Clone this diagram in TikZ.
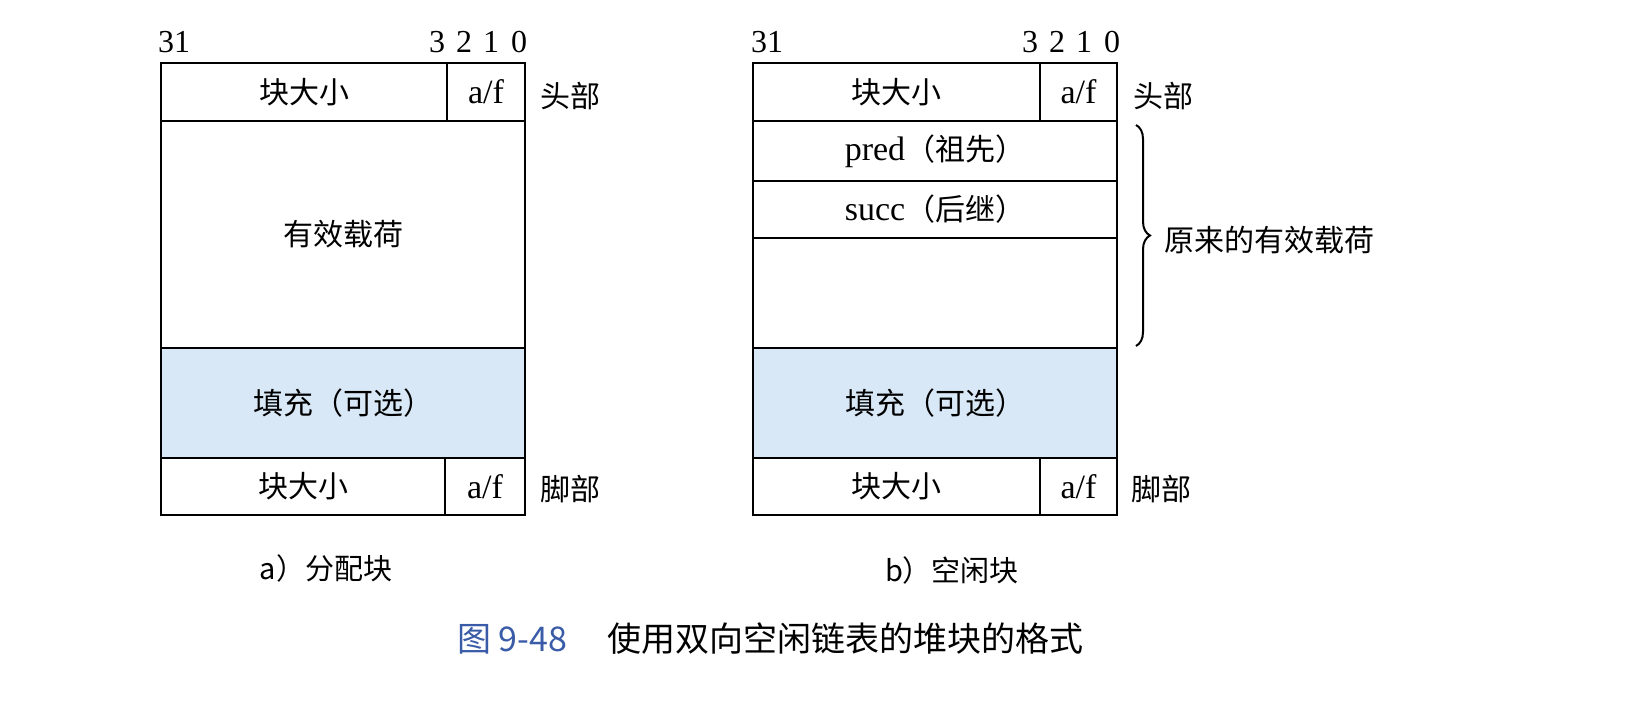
\documentclass[tikz,border=0pt]{standalone}
\usepackage{fontspec}
\setmainfont{Liberation Serif}
\newfontfamily\cjk{Noto Sans CJK SC}
\usetikzlibrary{decorations.pathreplacing}
\definecolor{padblue}{HTML}{D8E8F6}
\definecolor{capblue}{HTML}{3A5CA8}
\newcommand{\lat}[1]{{\fontsize{17pt}{20pt}\selectfont #1}}
\tikzset{
  cell/.style={draw=black, line width=1pt, inner sep=0pt, minimum height=#1, font=\fontsize{15pt}{18pt}\selectfont},
  lbl/.style={inner sep=0pt, font=\fontsize{15pt}{18pt}\selectfont},
  bits/.style={inner sep=0pt, font=\fontsize{16pt}{19pt}\selectfont},
  sub/.style={inner sep=0pt, font=\fontsize{14.5pt}{17pt}\selectfont\cjk},
}
\begin{document}
\begin{tikzpicture}[x=0.5pt,y=-0.5pt]
\useasboundingbox[fill=white] (0,0) rectangle (1625,704);
% ---------- left block ----------
\node[cell=29pt, minimum width=143pt] (aHs) at (304,92) {\cjk 块大小};
\node[cell=29pt, minimum width=39pt] (aHf) at (486,92) {\lat{a/f}};
\node[cell=113.5pt, minimum width=182pt] (aPay) at (343,234.5) {\cjk 有效载荷};
\node[cell=55pt, minimum width=182pt, fill=padblue] (aPad) at (343,403) {\cjk 填充（可选）};
\node[cell=28.5pt, minimum width=142pt] (aFs) at (303,486.5) {\cjk 块大小};
\node[cell=28.5pt, minimum width=40pt] (aFf) at (485,486.5) {\lat{a/f}};
\node[bits] (a31) at (174,42) {31};
\node[bits] (a3) at (437,42) {3};
\node[bits] (a2) at (464,42) {2};
\node[bits] (a1) at (491,42) {1};
\node[bits] (a0) at (519,42) {0};
\node[lbl, anchor=west] (aHead) at (540,96) {\cjk 头部};
\node[lbl, anchor=west] (aFoot) at (540,489) {\cjk 脚部};
\node[sub] (aCap) at (326,568) {a）分配块};
% ---------- right block ----------
\node[cell=29pt, minimum width=143.5pt] (bHs) at (896.5,92) {\cjk 块大小};
\node[cell=29pt, minimum width=38.5pt] (bHf) at (1078.5,92) {\lat{a/f}};
\node[cell=30pt, minimum width=182pt] (bPred) at (935,151) {\lat{pred}{\cjk （祖先）}};
\node[cell=28.5pt, minimum width=182pt] (bSucc) at (935,209.5) {\lat{succ}{\cjk （后继）}};
\node[cell=55pt, minimum width=182pt] (bRest) at (935,293) {};
\node[cell=55pt, minimum width=182pt, fill=padblue] (bPad) at (935,403) {\cjk 填充（可选）};
\node[cell=28.5pt, minimum width=143.5pt] (bFs) at (896.5,486.5) {\cjk 块大小};
\node[cell=28.5pt, minimum width=38.5pt] (bFf) at (1078.5,486.5) {\lat{a/f}};
\node[bits] (b31) at (767,42) {31};
\node[bits] (b3) at (1030,42) {3};
\node[bits] (b2) at (1057,42) {2};
\node[bits] (b1) at (1084,42) {1};
\node[bits] (b0) at (1112,42) {0};
\node[lbl, anchor=west] (bHead) at (1133,96) {\cjk 头部};
\node[lbl, anchor=west] (bFoot) at (1131,489) {\cjk 脚部};
\coordinate (brTop) at (1136,125);
\coordinate (brBot) at (1136,346);
\draw[line width=1pt, decorate, decoration={brace, amplitude=7pt}] (brTop) -- (brBot);
\node[lbl, anchor=west] (bOrig) at (1164,240) {\cjk 原来的有效载荷};
\node[sub] (bCap) at (952,570) {b）空闲块};
% ---------- caption ----------
\node[inner sep=0pt, anchor=west, font=\fontsize{17pt}{20pt}\selectfont] (fig) at (457,639)
  {{\color{capblue}\cjk 图\ 9-48}\hspace{20pt}{\cjk 使用双向空闲链表的堆块的格式}};
\end{tikzpicture}
\end{document}
